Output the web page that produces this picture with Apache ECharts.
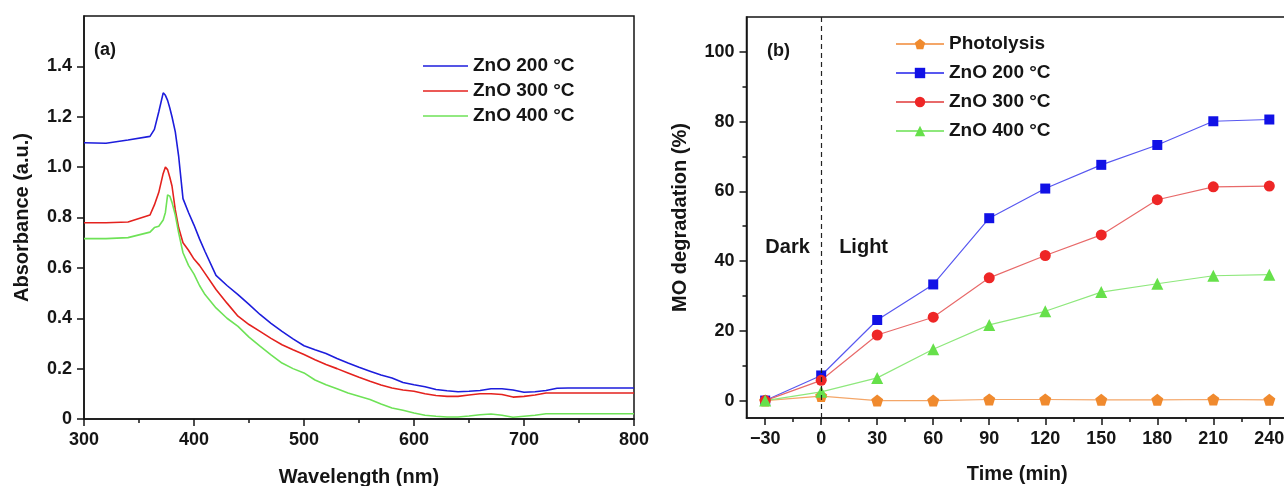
<!DOCTYPE html>
<html>
<head>
<meta charset="utf-8">
<title>ZnO absorbance and MO degradation</title>
<script src="https://cdn.jsdelivr.net/npm/echarts@6/dist/echarts.min.js"></script>
<style>
  html, body { margin: 0; padding: 0; background: #fff; }
  #chart { width: 1284px; height: 486px; }
</style>
</head>
<body>
<div id="chart"></div>
<script>
// (a) absorbance spectra
var wavelength = [300, 320, 340, 360, 364, 368, 372, 374, 376, 378, 380, 383, 386, 390, 395, 400, 405, 410, 420, 430,
  440, 450, 460, 470, 480, 490, 500, 510, 520, 530, 540, 550, 560, 570, 580, 590, 600, 610, 620, 630,
  640, 650, 660, 670, 680, 690, 700, 710, 720, 730, 740, 760, 780, 800];
var abs200 = [1.097, 1.095, 1.108, 1.122, 1.15, 1.22, 1.295, 1.285, 1.265, 1.235, 1.2, 1.14, 1.045, 0.875, 0.82, 0.77, 0.715, 0.665, 0.57, 0.53,
  0.494, 0.455, 0.415, 0.38, 0.348, 0.318, 0.291, 0.275, 0.26, 0.24, 0.222, 0.205, 0.19, 0.175, 0.163, 0.145, 0.136, 0.128, 0.117, 0.112,
  0.108, 0.11, 0.113, 0.12, 0.12, 0.115, 0.106, 0.108, 0.113, 0.122, 0.123, 0.123, 0.123, 0.123];
var abs300 = [0.779, 0.779, 0.782, 0.81, 0.85, 0.9, 0.975, 1.0, 0.99, 0.96, 0.925, 0.83, 0.76, 0.70, 0.67, 0.635, 0.61, 0.578, 0.514, 0.46,
  0.408, 0.375, 0.348, 0.32, 0.295, 0.275, 0.256, 0.235, 0.216, 0.2, 0.183, 0.166, 0.15, 0.135, 0.123, 0.115, 0.11, 0.1, 0.093, 0.09,
  0.09, 0.095, 0.1, 0.1, 0.097, 0.087, 0.09, 0.095, 0.103, 0.103, 0.103, 0.103, 0.103, 0.103];
var abs400 = [0.716, 0.716, 0.72, 0.742, 0.76, 0.765, 0.79, 0.82, 0.89, 0.885, 0.86, 0.81, 0.74, 0.66, 0.61, 0.575, 0.53, 0.494, 0.441, 0.4,
  0.368, 0.325, 0.289, 0.255, 0.222, 0.2, 0.183, 0.155, 0.136, 0.12, 0.103, 0.09, 0.077, 0.06, 0.044, 0.035, 0.024, 0.015, 0.011, 0.008,
  0.008, 0.012, 0.017, 0.02, 0.015, 0.007, 0.011, 0.015, 0.021, 0.021, 0.021, 0.021, 0.021, 0.021];
var absTicks = [0, 0.2, 0.4, 0.6, 0.8, 1.0, 1.2, 1.4];

// (b) MO degradation
var time = [-30, 0, 30, 60, 90, 120, 150, 180, 210, 240];
var photolysis = [0, 1.3, 0, 0, 0.3, 0.3, 0.2, 0.2, 0.3, 0.2];
var deg200 = [0, 7.2, 23.1, 33.3, 52.3, 60.8, 67.6, 73.3, 80.1, 80.6];
var deg300 = [0, 5.8, 18.8, 23.9, 35.2, 41.6, 47.5, 57.6, 61.3, 61.5];
var deg400 = [0, 2.5, 6.5, 14.7, 21.7, 25.6, 31.1, 33.5, 35.8, 36.1];
var timeTicks = [-30, 0, 30, 60, 90, 120, 150, 180, 210, 240];
var timeMinor = [-15, 15, 45, 75, 105, 135, 165, 195, 225];
var degTicks = [0, 20, 40, 60, 80, 100];
var degMinor = [10, 30, 50, 70, 90];

var namesA = ['ZnO 200 °C', 'ZnO 300 °C', 'ZnO 400 °C'];
var namesB = ['Photolysis', 'ZnO 200 °C', 'ZnO 300 °C', 'ZnO 400 °C'];
var SUFFIX = ' (b)';  // keeps legend entries of the two panels apart

var FONT = '"Liberation Sans", Arial, sans-serif';
var INK = '#151515';

function pairs(xs, ys) {
  var out = [];
  for (var i = 0; i < xs.length; i++) out.push([xs[i], ys[i]]);
  return out;
}

function tickLabel(size) {
  return { color: INK, fontFamily: FONT, fontWeight: 'bold', fontSize: size };
}

var pentagon = 'path://M0,-10L9.51,-3.09L5.88,8.09L-5.88,8.09L-9.51,-3.09Z';
var lineIcon = 'path://M0,0H45V1.6H0Z';

var option = {
  animation: false,
  backgroundColor: '#fff',
  title: [
    { text: '(a)', left: 89, top: 36, textStyle: { color: INK, fontFamily: FONT, fontWeight: 'bold', fontSize: 18 } },
    { text: '(b)', left: 762, top: 37, textStyle: { color: INK, fontFamily: FONT, fontWeight: 'bold', fontSize: 18 } }
  ],
  legend: [
    {
      data: namesA.map(function (n) { return { name: n, icon: lineIcon }; }),
      orient: 'vertical', left: 418, top: 51,
      itemWidth: 45, itemHeight: 14, itemGap: 5,
      textStyle: { color: INK, fontFamily: FONT, fontWeight: 'bold', fontSize: 19, lineHeight: 20 }
    },
    {
      data: namesB.map(function (n) { return n + SUFFIX; }), orient: 'vertical', left: 890, top: 29,
      itemWidth: 48, itemHeight: 13, itemGap: 9,
      formatter: function (n) { return n.replace(SUFFIX, ''); },
      textStyle: { color: INK, fontFamily: FONT, fontWeight: 'bold', fontSize: 19, lineHeight: 20 }
    }
  ],
  grid: [
    { left: 84, right: 650, top: 16, bottom: 67, show: true, borderColor: INK, borderWidth: 1.5, outerBoundsMode: 'none' },
    { left: 746.5, right: -4, top: 17, bottom: 68, show: true, borderColor: INK, borderWidth: 1.5, outerBoundsMode: 'none' }
  ],
  xAxis: [
    {
      gridIndex: 0, type: 'value', min: 300, max: 800, interval: 100,
      name: 'Wavelength (nm)', nameLocation: 'middle', nameGap: 48,
      nameTextStyle: { color: INK, fontFamily: FONT, fontWeight: 'bold', fontSize: 20 },
      axisLine: { lineStyle: { color: INK, width: 1.5 } },
      axisTick: { length: 7, lineStyle: { color: INK, width: 1.5 } },
      minorTick: { show: true, splitNumber: 2, length: 4, lineStyle: { color: INK, width: 1.5 } },
      axisLabel: Object.assign(tickLabel(18), { margin: 12 }),
      splitLine: { show: false }
    },
    {
      gridIndex: 1, type: 'value', min: -40, max: 250, position: 'bottom',
      name: 'Time (min)', nameLocation: 'middle', nameGap: 46,
      nameTextStyle: { color: INK, fontFamily: FONT, fontWeight: 'bold', fontSize: 20 },
      axisLine: { onZero: false, lineStyle: { color: INK, width: 1.5 } },
      axisTick: { length: 7, customValues: timeTicks, lineStyle: { color: INK, width: 1.5 } },
      axisLabel: Object.assign(tickLabel(18), {
        margin: 12, customValues: timeTicks,
        formatter: function (v) { return v < 0 ? '\u2212' + Math.abs(v) : String(v); }
      }),
      splitLine: { show: false }
    },
    {
      gridIndex: 1, type: 'value', min: -40, max: 250, position: 'bottom',
      axisLine: { show: false, onZero: false },
      axisTick: { length: 4, customValues: timeMinor, lineStyle: { color: INK, width: 1.5 } },
      axisLabel: { show: false },
      splitLine: { show: false }
    }
  ],
  yAxis: [
    {
      gridIndex: 0, type: 'value', min: 0, max: 1.6,
      name: 'Absorbance (a.u.)', nameLocation: 'middle', nameGap: 52,
      nameTextStyle: { color: INK, fontFamily: FONT, fontWeight: 'bold', fontSize: 20 },
      axisLine: { show: true, lineStyle: { color: INK, width: 1.5 } },
      axisTick: { show: true, length: 7, customValues: absTicks, lineStyle: { color: INK, width: 1.5 } },
      axisLabel: Object.assign(tickLabel(18), {
        margin: 12, customValues: absTicks,
        formatter: function (v) { return v === 0 ? '0' : v.toFixed(1); }
      }),
      splitLine: { show: false }
    },
    {
      gridIndex: 1, type: 'value', min: -5, max: 110, position: 'left',
      name: 'MO degradation (%)', nameLocation: 'middle', nameGap: 56,
      nameTextStyle: { color: INK, fontFamily: FONT, fontWeight: 'bold', fontSize: 20 },
      axisLine: { show: true, onZero: false, lineStyle: { color: INK, width: 1.5 } },
      axisTick: { show: true, length: 7, customValues: degTicks, lineStyle: { color: INK, width: 1.5 } },
      axisLabel: Object.assign(tickLabel(18), { margin: 12, customValues: degTicks }),
      splitLine: { show: false }
    },
    {
      gridIndex: 1, type: 'value', min: -5, max: 110, position: 'left',
      axisLine: { show: false, onZero: false },
      axisTick: { show: true, length: 4, customValues: degMinor, lineStyle: { color: INK, width: 1.5 } },
      axisLabel: { show: false },
      splitLine: { show: false }
    }
  ],
  series: [
    {
      name: namesA[0], type: 'line', xAxisIndex: 0, yAxisIndex: 0, symbol: 'none',
      data: pairs(wavelength, abs200), color: '#1d1ddc', lineStyle: { width: 1.6 }
    },
    {
      name: namesA[1], type: 'line', xAxisIndex: 0, yAxisIndex: 0, symbol: 'none',
      data: pairs(wavelength, abs300), color: '#e4221e', lineStyle: { width: 1.6 }
    },
    {
      name: namesA[2], type: 'line', xAxisIndex: 0, yAxisIndex: 0, symbol: 'none',
      data: pairs(wavelength, abs400), color: '#6ee257', lineStyle: { width: 1.6 }
    },
    {
      name: namesB[0] + SUFFIX, type: 'line', xAxisIndex: 1, yAxisIndex: 1,
      data: pairs(time, photolysis), symbol: pentagon, symbolSize: 12,
      itemStyle: { color: '#f08a2e' }, lineStyle: { color: '#f4a668', width: 1.2 },
      markLine: {
        silent: true, symbol: ['none', 'none'], label: { show: false },
        lineStyle: { color: '#222', type: [5, 4], width: 1.2 },
        data: [{ xAxis: 0 }]
      },
      markPoint: {
        symbol: 'circle', symbolSize: 0,
        label: { show: true, position: 'inside', formatter: '{b}', color: INK, fontFamily: FONT, fontWeight: 'bold', fontSize: 20 },
        data: [
          { name: 'Dark', coord: [-18, 44] },
          { name: 'Light', coord: [22.7, 44] }
        ]
      }
    },
    {
      name: namesB[1] + SUFFIX, type: 'line', xAxisIndex: 1, yAxisIndex: 1,
      data: pairs(time, deg200), symbol: 'rect', symbolSize: 10,
      itemStyle: { color: '#1111e6' }, lineStyle: { color: '#5858f0', width: 1.2 }
    },
    {
      name: namesB[2] + SUFFIX, type: 'line', xAxisIndex: 1, yAxisIndex: 1,
      data: pairs(time, deg300), symbol: 'circle', symbolSize: 11,
      itemStyle: { color: '#ee2626' }, lineStyle: { color: '#e86a6a', width: 1.2 }
    },
    {
      name: namesB[3] + SUFFIX, type: 'line', xAxisIndex: 1, yAxisIndex: 1,
      data: pairs(time, deg400), symbol: 'triangle', symbolSize: 12,
      itemStyle: { color: '#66e04a' }, lineStyle: { color: '#8ee87c', width: 1.2 }
    }
  ]
};

var myChart = echarts.init(document.getElementById('chart'));
myChart.setOption(option);
</script>
</body>
</html>
